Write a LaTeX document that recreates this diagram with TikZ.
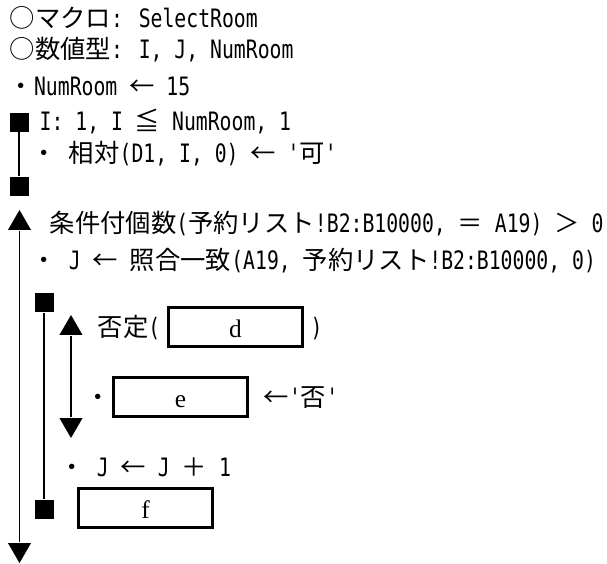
\documentclass[tikz,border=0pt]{standalone}
\usepackage{fontspec}
\setmainfont{Noto Sans CJK JP}
\newfontfamily\hwfont{DejaVu Sans Mono}[FakeStretch=0.78]
\newfontfamily\boxfont{Liberation Serif}
\newcommand{\hw}[1]{{\hwfont #1}}
\usetikzlibrary{shapes.geometric}
\begin{document}
\begin{tikzpicture}[x=0.75pt, y=-0.75pt, line width=1.1pt,
  txt/.style={anchor=west, inner sep=0pt, text height=16.7pt, text depth=2.3pt, font=\fontsize{19}{23}\selectfont},
  blk/.style={fill, minimum size=14.25pt, inner sep=0pt},
  trup/.style={fill, regular polygon, regular polygon sides=3, minimum size=20pt, inner sep=0pt},
  trdown/.style={trup, shape border rotate=180},
  ansbox/.style={draw, line width=2.2pt, minimum width=100.5pt, minimum height=29pt, inner sep=0pt, text height=16pt, text depth=0pt, font=\boxfont\fontsize{19}{22}\selectfont}]
		\useasboundingbox (0,0) rectangle (607,564);
		\node [txt] (macro) at (9,18) {○マクロ\hw{: SelectRoom}};
		\node [txt] (vars) at (9,49) {○数値型\hw{:  I, J, NumRoom}};
		\node [txt] (init) at (8,86) {・\hw{NumRoom }←\hw{ 15}};
		
		% loop over I
		\node [blk] (s1) at (19,122) {};
		\node [txt] (loopI) at (39,121) {\hw{I: 1, I }≦\hw{ NumRoom, 1}};
		\node [txt] (setok) at (31,153) {・\hw{ }相対\hw{(D1, I, 0) }←\hw{ '}可\hw{'}};
		\node [blk] (s2) at (19,186.5) {};
		\draw (s1) -- (s2);
		
		% while loop
		\node [trup] (t1) at (19.5,223.3) {};
		\node [txt] (cond) at (49,223) {条件付個数\hw{(}予約リスト\hw{!B2:B10000, }＝\hw{ A19) }＞\hw{ 0}};
		\node [txt] (match) at (31,260) {・\hw{ J }←\hw{ }照合一致\hw{(A19, }予約リスト\hw{!B2:B10000, 0)}};
		\node [trdown] (t2) at (19.5,549.7) {};
		\draw (t1) -- (t2);
		
		% inner loop
		\node [blk] (s3) at (44,302.5) {};
		\node [blk] (s4) at (44,509) {};
		\draw (s3) -- (s4);
		
		% selection
		\node [trup] (t3) at (71,328.3) {};
		\node [txt] (notl) at (97,327) {否定\hw{(}};
		\node [ansbox] (d) at (235.5,327) {d};
		\node [txt] (notr) at (310,327) {\hw{)}};
		\node [txt] (dot) at (85,397) {・};
		\node [ansbox] (e) at (180.5,397) {e};
		\node [txt] (setng) at (263,397) {←\hw{'}否\hw{'}};
		\node [trdown] (t4) at (71,424.7) {};
		\draw (t3) -- (t4);
		
		\node [txt] (inc) at (59,467) {・\hw{ J }←\hw{ J }＋\hw{ 1}};
		\node [ansbox] (f) at (145.5,508) {f};
\end{tikzpicture}
\end{document}
